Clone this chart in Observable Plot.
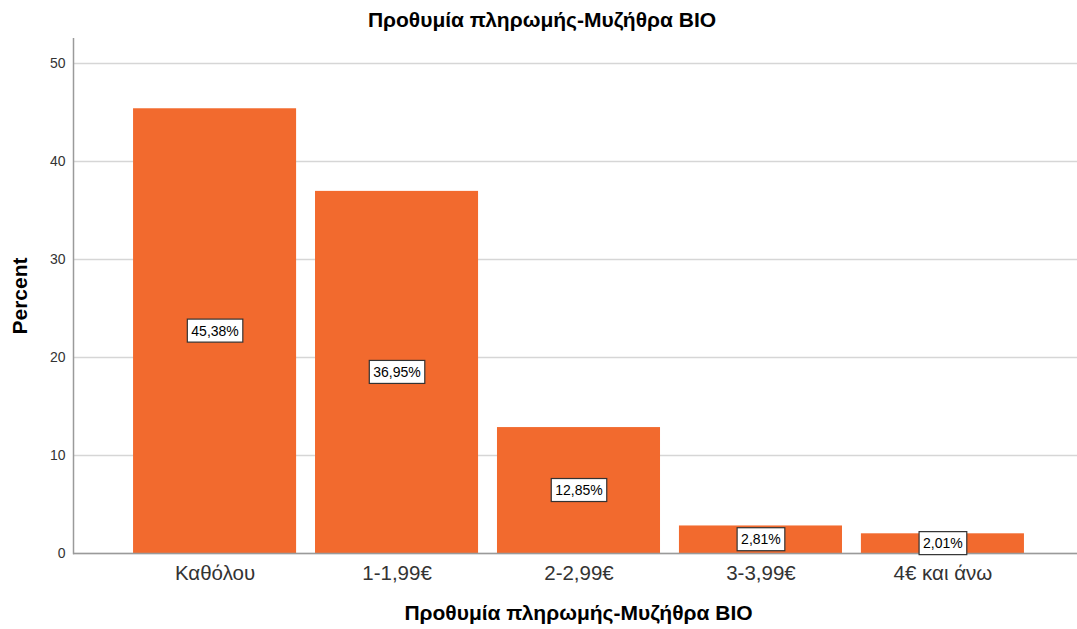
<!DOCTYPE html>
<html>
<head>
<meta charset="utf-8">
<script src="https://cdn.jsdelivr.net/npm/d3@7"></script>
<script src="https://cdn.jsdelivr.net/npm/@observablehq/plot@0.6"></script>
<style>
  body { margin: 0; background: #fff; font-family: "Liberation Sans", Arial, sans-serif; }
  #title { height: 38px; line-height: 38px; padding-top: 1px; padding-left: 7px; box-sizing: border-box;
           text-align: center; font-weight: bold; font-size: 21px; color: #000; white-space: nowrap; }
</style>
</head>
<body>
<div id="title">Προθυμία πληρωμής-Μυζήθρα BIO</div>
<div id="chart"></div>
<script>
const categories = ["Καθόλου", "1-1,99€", "2-2,99€", "3-3,99€", "4€ και άνω"];
const percents = [45.38, 36.95, 12.85, 2.81, 2.01];
const valueLabels = ["45,38%", "36,95%", "12,85%", "2,81%", "2,01%"];
const yTicks = [0, 10, 20, 30, 40, 50];
const xTitle = "Προθυμία πληρωμής-Μυζήθρα BIO";
const yTitle = "Percent";

const data = categories.map((c, i) => ({category: c, percent: percents[i], label: valueLabels[i]}));

const chart = Plot.plot({
  width: 1077,
  height: 591,
  marginTop: 0,
  marginLeft: 73,
  marginRight: 0,
  marginBottom: 76,
  style: {fontFamily: "Liberation Sans, Arial, sans-serif", background: "#fff", color: "#222"},
  x: {domain: categories, range: [73, 1084], paddingInner: 0.104, paddingOuter: 0.33, round: false},
  y: {domain: [0, 52.55]},
  marks: [
    Plot.gridY(yTicks, {stroke: "#d6d6d6", strokeOpacity: 1, strokeWidth: 1.3}),
    Plot.barY(data, {x: "category", y: "percent", fill: "#f26a2e"}),
    Plot.ruleY([0], {stroke: "#9a9a9a", strokeWidth: 1.5}),
    Plot.frame({anchor: "left", stroke: "#9a9a9a", strokeWidth: 1.5}),
    Plot.axisY(yTicks, {tickSize: 0, tickPadding: 8, fontSize: 14, label: null, fill: "#333"}),
    Plot.axisX({tickSize: 0, tickPadding: 12, fontSize: 20.5, label: null, fill: "#333"}),
    Plot.text([yTitle], {frameAnchor: "left", dx: -53, rotate: -90, textAnchor: "middle", lineAnchor: "middle", fontSize: 21, fontWeight: "bold", fill: "#000"}),
    Plot.text([xTitle], {frameAnchor: "bottom", dx: 3, dy: 60, textAnchor: "middle", lineAnchor: "middle", fontSize: 21, fontWeight: "bold", fill: "#000"}),
    Plot.text(data, {x: "category", y: d => d.percent / 2, text: "label", fontSize: 14, fill: "#000"})
  ]
});

document.getElementById("chart").append(chart);

chart.querySelectorAll("text").forEach(t => {
  if (!valueLabels.includes(t.textContent)) return;
  const bb = t.getBBox();
  const r = document.createElementNS("http://www.w3.org/2000/svg", "rect");
  r.setAttribute("x", bb.x - 4);
  r.setAttribute("y", bb.y - 3.5);
  r.setAttribute("width", bb.width + 8);
  r.setAttribute("height", bb.height + 7);
  r.setAttribute("fill", "#fff");
  r.setAttribute("stroke", "#333");
  r.setAttribute("stroke-width", 1.2);
  const tr = t.getAttribute("transform");
  if (tr) r.setAttribute("transform", tr);
  t.parentNode.insertBefore(r, t);
});
</script>
</body>
</html>
